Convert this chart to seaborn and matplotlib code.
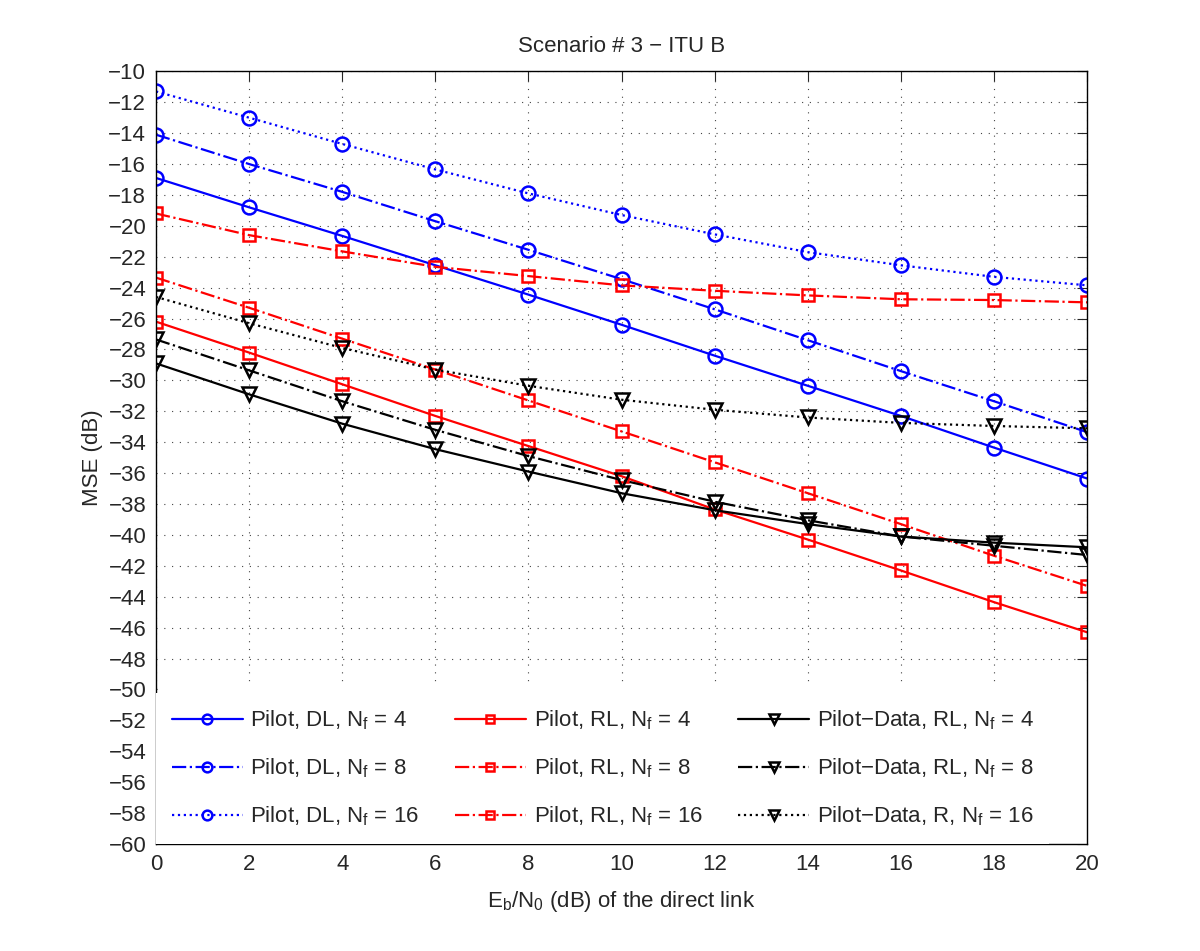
import matplotlib
matplotlib.use("Agg")
import matplotlib.pyplot as plt
from matplotlib.patches import Rectangle
import seaborn as sns
import numpy as np

# Eb/N0 of the direct link (dB)
ebn0 = [0, 2, 4, 6, 8, 10, 12, 14, 16, 18, 20]

# MSE (dB)
pilot_dl_4 = [-16.9, -18.8, -20.65, -22.55, -24.45, -26.4, -28.4, -30.35, -32.3, -34.35, -36.35]
pilot_dl_8 = [-14.1, -16.0, -17.8, -19.7, -21.55, -23.45, -25.4, -27.4, -29.4, -31.35, -33.35]
pilot_dl_16 = [-11.3, -13.0, -14.7, -16.35, -17.9, -19.3, -20.55, -21.7, -22.55, -23.3, -23.85]

pilot_rl_4 = [-26.2, -28.2, -30.25, -32.3, -34.25, -36.2, -38.35, -40.3, -42.3, -44.35, -46.3]
pilot_rl_8 = [-23.35, -25.3, -27.3, -29.3, -31.3, -33.3, -35.3, -37.3, -39.3, -41.35, -43.3]
pilot_rl_16 = [-19.2, -20.6, -21.65, -22.65, -23.25, -23.85, -24.2, -24.5, -24.75, -24.8, -24.95]

pd_rl_4 = [-28.9, -30.9, -32.8, -34.45, -35.9, -37.3, -38.4, -39.3, -40.1, -40.5, -40.8]
pd_rl_8 = [-27.35, -29.35, -31.35, -33.2, -34.9, -36.45, -37.85, -39.05, -40.1, -40.7, -41.3]
pd_rl_16 = [-24.6, -26.3, -27.9, -29.3, -30.35, -31.25, -31.9, -32.4, -32.75, -32.95, -33.1]

labels = [
    "Pilot, DL, N$_{\\mathregular{f}}$ = 4",
    "Pilot, DL, N$_{\\mathregular{f}}$ = 8",
    "Pilot, DL, N$_{\\mathregular{f}}$ = 16",
    "Pilot, RL, N$_{\\mathregular{f}}$ = 4",
    "Pilot, RL, N$_{\\mathregular{f}}$ = 8",
    "Pilot, RL, N$_{\\mathregular{f}}$ = 16",
    "Pilot\u2212Data, RL, N$_{\\mathregular{f}}$ = 4",
    "Pilot\u2212Data, RL, N$_{\\mathregular{f}}$ = 8",
    "Pilot\u2212Data, R, N$_{\\mathregular{f}}$ = 16",
]
series = [pilot_dl_4, pilot_dl_8, pilot_dl_16,
          pilot_rl_4, pilot_rl_8, pilot_rl_16,
          pd_rl_4, pd_rl_8, pd_rl_16]

colors = ["#0000ff"] * 3 + ["#ff0000"] * 3 + ["#000000"] * 3
markers = ["o"] * 3 + ["s"] * 3 + ["v"] * 3
msizes = [10] * 3 + [8.5] * 3 + [10] * 3
styles = ["-", "-.", ":", "-", "-.", "-.", "-", "-.", ":"]

sns.set_style("white")
plt.rcParams["font.family"] = ["Liberation Sans", "DejaVu Sans"]
plt.rcParams["mathtext.fontset"] = "custom"
plt.rcParams["mathtext.rm"] = "Liberation Sans"

fig = plt.figure(figsize=(12, 9.51), dpi=100)
ax = fig.add_axes([0.13, 0.1125, 0.776, 0.8125])

for y, lab, c, m, ms, ls in zip(series, labels, colors, markers, msizes, styles):
    sns.lineplot(x=ebn0, y=y, ax=ax, color=c, linestyle=ls, linewidth=1.6,
                 marker=m, markersize=ms, markerfacecolor="none",
                 markeredgecolor=c, markeredgewidth=1.8, label=lab)

ax.set_xlim(0, 20)
ax.set_ylim(-60, -10)
ax.set_xticks(np.arange(0, 21, 2))
ax.set_yticks(np.arange(-60, -9, 2))
ax.grid(True, linestyle=(0, (1, 6)), color="#444444", linewidth=0.8)
ax.tick_params(direction="in", length=7, width=0.8, top=True, right=True,
               labelsize=16, pad=7)
for sp in ax.spines.values():
    sp.set_visible(True)
    sp.set_color("black")
    sp.set_linewidth(1.0)

# white legend box area (covers the grid behind the legend)
ax.add_patch(Rectangle((0.008, 0.0), 0.992, 0.204, transform=ax.transAxes,
                       facecolor="white", edgecolor="none", zorder=1))

ax.set_title("Scenario # 3 \u2212 ITU B", fontsize=16, pad=14)
ax.set_xlabel("E$_{\\mathregular{b}}$/N$_{\\mathregular{0}}$ (dB) of the direct link",
              fontsize=16, labelpad=10)
ax.set_ylabel("MSE (dB)", fontsize=16, labelpad=4)

leg = ax.legend(loc="lower left", bbox_to_anchor=(0.0, 0.0), ncol=3,
                fontsize=16, handlelength=3.2, labelspacing=1.1,
                borderaxespad=0, frameon=True, fancybox=False, framealpha=1,
                markerscale=0.7, handletextpad=0.35, borderpad=0.7,
                columnspacing=1.6)
leg.get_frame().set_edgecolor("none")

fig.savefig("out.png", dpi=100, facecolor="white")
